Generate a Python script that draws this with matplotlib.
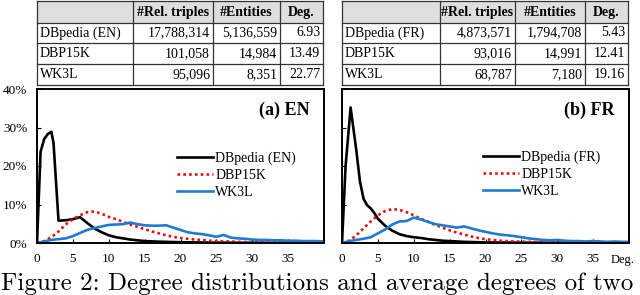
import matplotlib
matplotlib.use('Agg')
import matplotlib.pyplot as plt
from matplotlib.patches import Rectangle

plt.rcParams['font.family'] = ['Liberation Serif', 'DejaVu Serif']

# --- data ---
table_header = ['', '#Rel. triples', '#Entities', 'Deg.']
table_en = [['DBpedia (EN)', '17,788,314', '5,136,559', '6.93'],
            ['DBP15K', '101,058', '14,984', '13.49'],
            ['WK3L', '95,096', '8,351', '22.77']]
table_fr = [['DBpedia (FR)', '4,873,571', '1,794,708', '5.43'],
            ['DBP15K', '93,016', '14,991', '12.41'],
            ['WK3L', '68,787', '7,180', '19.16']]

# EN degree distributions (%)
en_dbp_x = [0, 0.5, 1, 1.5, 2, 2.3, 3, 4, 5, 6, 7, 8, 9, 10, 11, 12, 13, 14, 15, 17, 20, 25, 30, 40]
en_dbp_y = [0, 23.7, 27.0, 28.3, 28.9, 26.0, 5.8, 5.9, 6.2, 6.7, 5.2, 3.8, 2.8, 2.0, 1.5, 1.2, 0.9, 0.7, 0.5, 0.35, 0.2, 0.1, 0.05, 0]
en_15k_x = list(range(0, 31)) + [35, 40]
en_15k_y = [0, 0.5, 1.5, 3.0, 4.8, 6.2, 7.2, 8.0, 8.2, 7.6, 6.8, 6.2, 5.5, 4.8, 4.2, 3.6,
            3.0, 2.5, 2.0, 1.6, 1.3, 1.1, 0.9, 0.8, 0.6, 0.5, 0.45, 0.4, 0.3, 0.25, 0.2, 0.1, 0.05]
en_wk_x = list(range(0, 41))
en_wk_y = [0, 0.4, 0.8, 1.0, 1.2, 1.8, 2.6, 3.4, 3.9, 4.3, 4.7, 4.8, 4.9, 5.3, 4.9, 4.6,
           4.5, 4.5, 4.6, 4.0, 3.4, 2.8, 2.5, 2.3, 2.0, 1.6, 2.1, 1.4, 1.2, 1.1, 0.9,
           0.8, 0.8, 0.7, 0.7, 0.6, 0.6, 0.5, 0.5, 0.5, 0.4]

# FR degree distributions (%)
fr_dbp_x = [0, 0.5, 1.2, 2, 2.5, 3, 3.5, 4, 4.5, 5, 6, 7, 8, 9, 10, 11, 12, 13, 14, 15, 17, 20, 25, 30, 40]
fr_dbp_y = [0, 20.0, 35.2, 24.0, 16.0, 11.5, 9.8, 9.0, 7.8, 6.3, 4.5, 3.2, 2.3, 1.8, 1.5, 1.3, 1.0, 0.8, 0.6, 0.5, 0.3, 0.15, 0.1, 0.05, 0]
fr_15k_x = list(range(0, 26)) + [27, 30, 35, 40]
fr_15k_y = [0, 0.6, 2.0, 3.8, 5.6, 7.2, 8.3, 8.8, 8.6, 8.0, 7.2, 6.3, 5.5, 4.7, 4.0, 3.3,
            2.7, 2.2, 1.7, 1.3, 1.0, 0.8, 0.6, 0.5, 0.4, 0.35, 0.25, 0.15, 0.05, 0]
fr_wk_x = list(range(0, 41))
fr_wk_y = [0, 0.5, 0.8, 1.1, 1.5, 2.5, 3.5, 4.8, 5.6, 5.7, 6.6, 6.1, 5.5, 4.9, 4.6, 4.3,
           4.0, 4.3, 3.8, 3.3, 2.9, 2.5, 2.2, 2.0, 1.8, 1.5, 1.2, 1.0, 0.8, 0.7, 0.8,
           0.6, 0.5, 0.5, 0.4, 0.5, 0.4, 0.3, 0.4, 0.3, 0.3]

x_ticks = [0, 5, 10, 15, 20, 25, 30, 35]
y_ticks = [0, 10, 20, 30, 40]

W, H = 640, 295
fig = plt.figure(figsize=(6.4, 2.95), dpi=100)


def fbox(x0, y0, x1, y1):
    # pixel box (top-left origin) -> figure rect
    return [x0 / W, 1 - y1 / H, (x1 - x0) / W, (y1 - y0) / H]


def draw_table(x0, x1, col_edges, header, rows):
    ax = fig.add_axes(fbox(x0, 1, x1, 85))
    ax.set_xlim(x0, x1)
    ax.set_ylim(85, 1)
    ax.axis('off')
    row_edges = [1, 23, 43, 64, 85]
    ax.add_patch(Rectangle((x0, 1), x1 - x0, 22, facecolor='#dedede', edgecolor='none'))
    for y in row_edges:
        ax.plot([x0, x1], [y, y], color='#333333', lw=0.9, clip_on=False)
    for x in col_edges:
        ax.plot([x, x], [1, 85], color='#333333', lw=0.9, clip_on=False)
    for j, h in enumerate(header):
        cx = (col_edges[j] + col_edges[j + 1]) / 2
        ax.text(cx, 12.5, h, ha='center', va='center', fontsize=10, fontweight='bold')
    for i, r in enumerate(rows):
        cy = (row_edges[i + 1] + row_edges[i + 2]) / 2
        for j, v in enumerate(r):
            if j == 0:
                ax.text(col_edges[0] + 3, cy, v, ha='left', va='center', fontsize=10)
            else:
                ax.text(col_edges[j + 1] - 3, cy, v, ha='right', va='center', fontsize=10)


draw_table(37, 323, [37, 133, 213, 280, 323], table_header, table_en)
draw_table(342, 628, [342, 440, 515, 585, 628], table_header, table_fr)


def draw_plot(rect, series, title, show_y, leg_anchor):
    ax = fig.add_axes(rect)
    (dx, dy, dl), (kx, ky, kl), (wx, wy, wl) = series
    ax.plot(dx, dy, color='black', lw=1.9, label=dl)
    ax.plot(kx, ky, color='#e01010', lw=1.9, linestyle=(0, (1, 1.2)), label=kl)
    ax.plot(wx, wy, color='#1f7bd0', lw=1.9, label=wl)
    ax.set_xlim(0, 40)
    ax.set_ylim(0, 40)
    ax.set_xticks(x_ticks)
    ax.set_yticks(y_ticks)
    if show_y:
        ax.set_yticklabels([f'{v}%' for v in y_ticks])
    else:
        ax.set_yticklabels([])
    ax.tick_params(direction='in', length=3, width=0.8, labelsize=9.5, pad=7)
    for s in ax.spines.values():
        s.set_linewidth(1.4)
    ax.text(0.951, 0.864, title, transform=ax.transAxes, ha='right', va='center',
            fontsize=13, fontweight='bold')
    ax.legend(loc='center left', bbox_to_anchor=leg_anchor, frameon=False, fontsize=10,
              handlelength=2.6, handletextpad=0.15, labelspacing=0.3,
              borderpad=0, borderaxespad=0)
    return ax


draw_plot(fbox(37, 89, 324, 243),
          [(en_dbp_x, en_dbp_y, 'DBpedia (EN)'), (en_15k_x, en_15k_y, 'DBP15K'),
           (en_wk_x, en_wk_y, 'WK3L')],
          '(a) EN', True, (0.488, 0.44))
draw_plot(fbox(342, 89, 629, 243),
          [(fr_dbp_x, fr_dbp_y, 'DBpedia (FR)'), (fr_15k_x, fr_15k_y, 'DBP15K'),
           (fr_wk_x, fr_wk_y, 'WK3L')],
          '(b) FR', False, (0.491, 0.448))

fig.text(623 / W, 1 - 260 / H, 'Deg.', ha='center', va='center', fontsize=9)

fig.text(1 / W, 5 / H, 'Figure 2: Degree distributions and average degrees of two',
         family='cmr10', fontsize=18.0, ha='left', va='baseline')

fig.savefig('out.png', dpi=100)
